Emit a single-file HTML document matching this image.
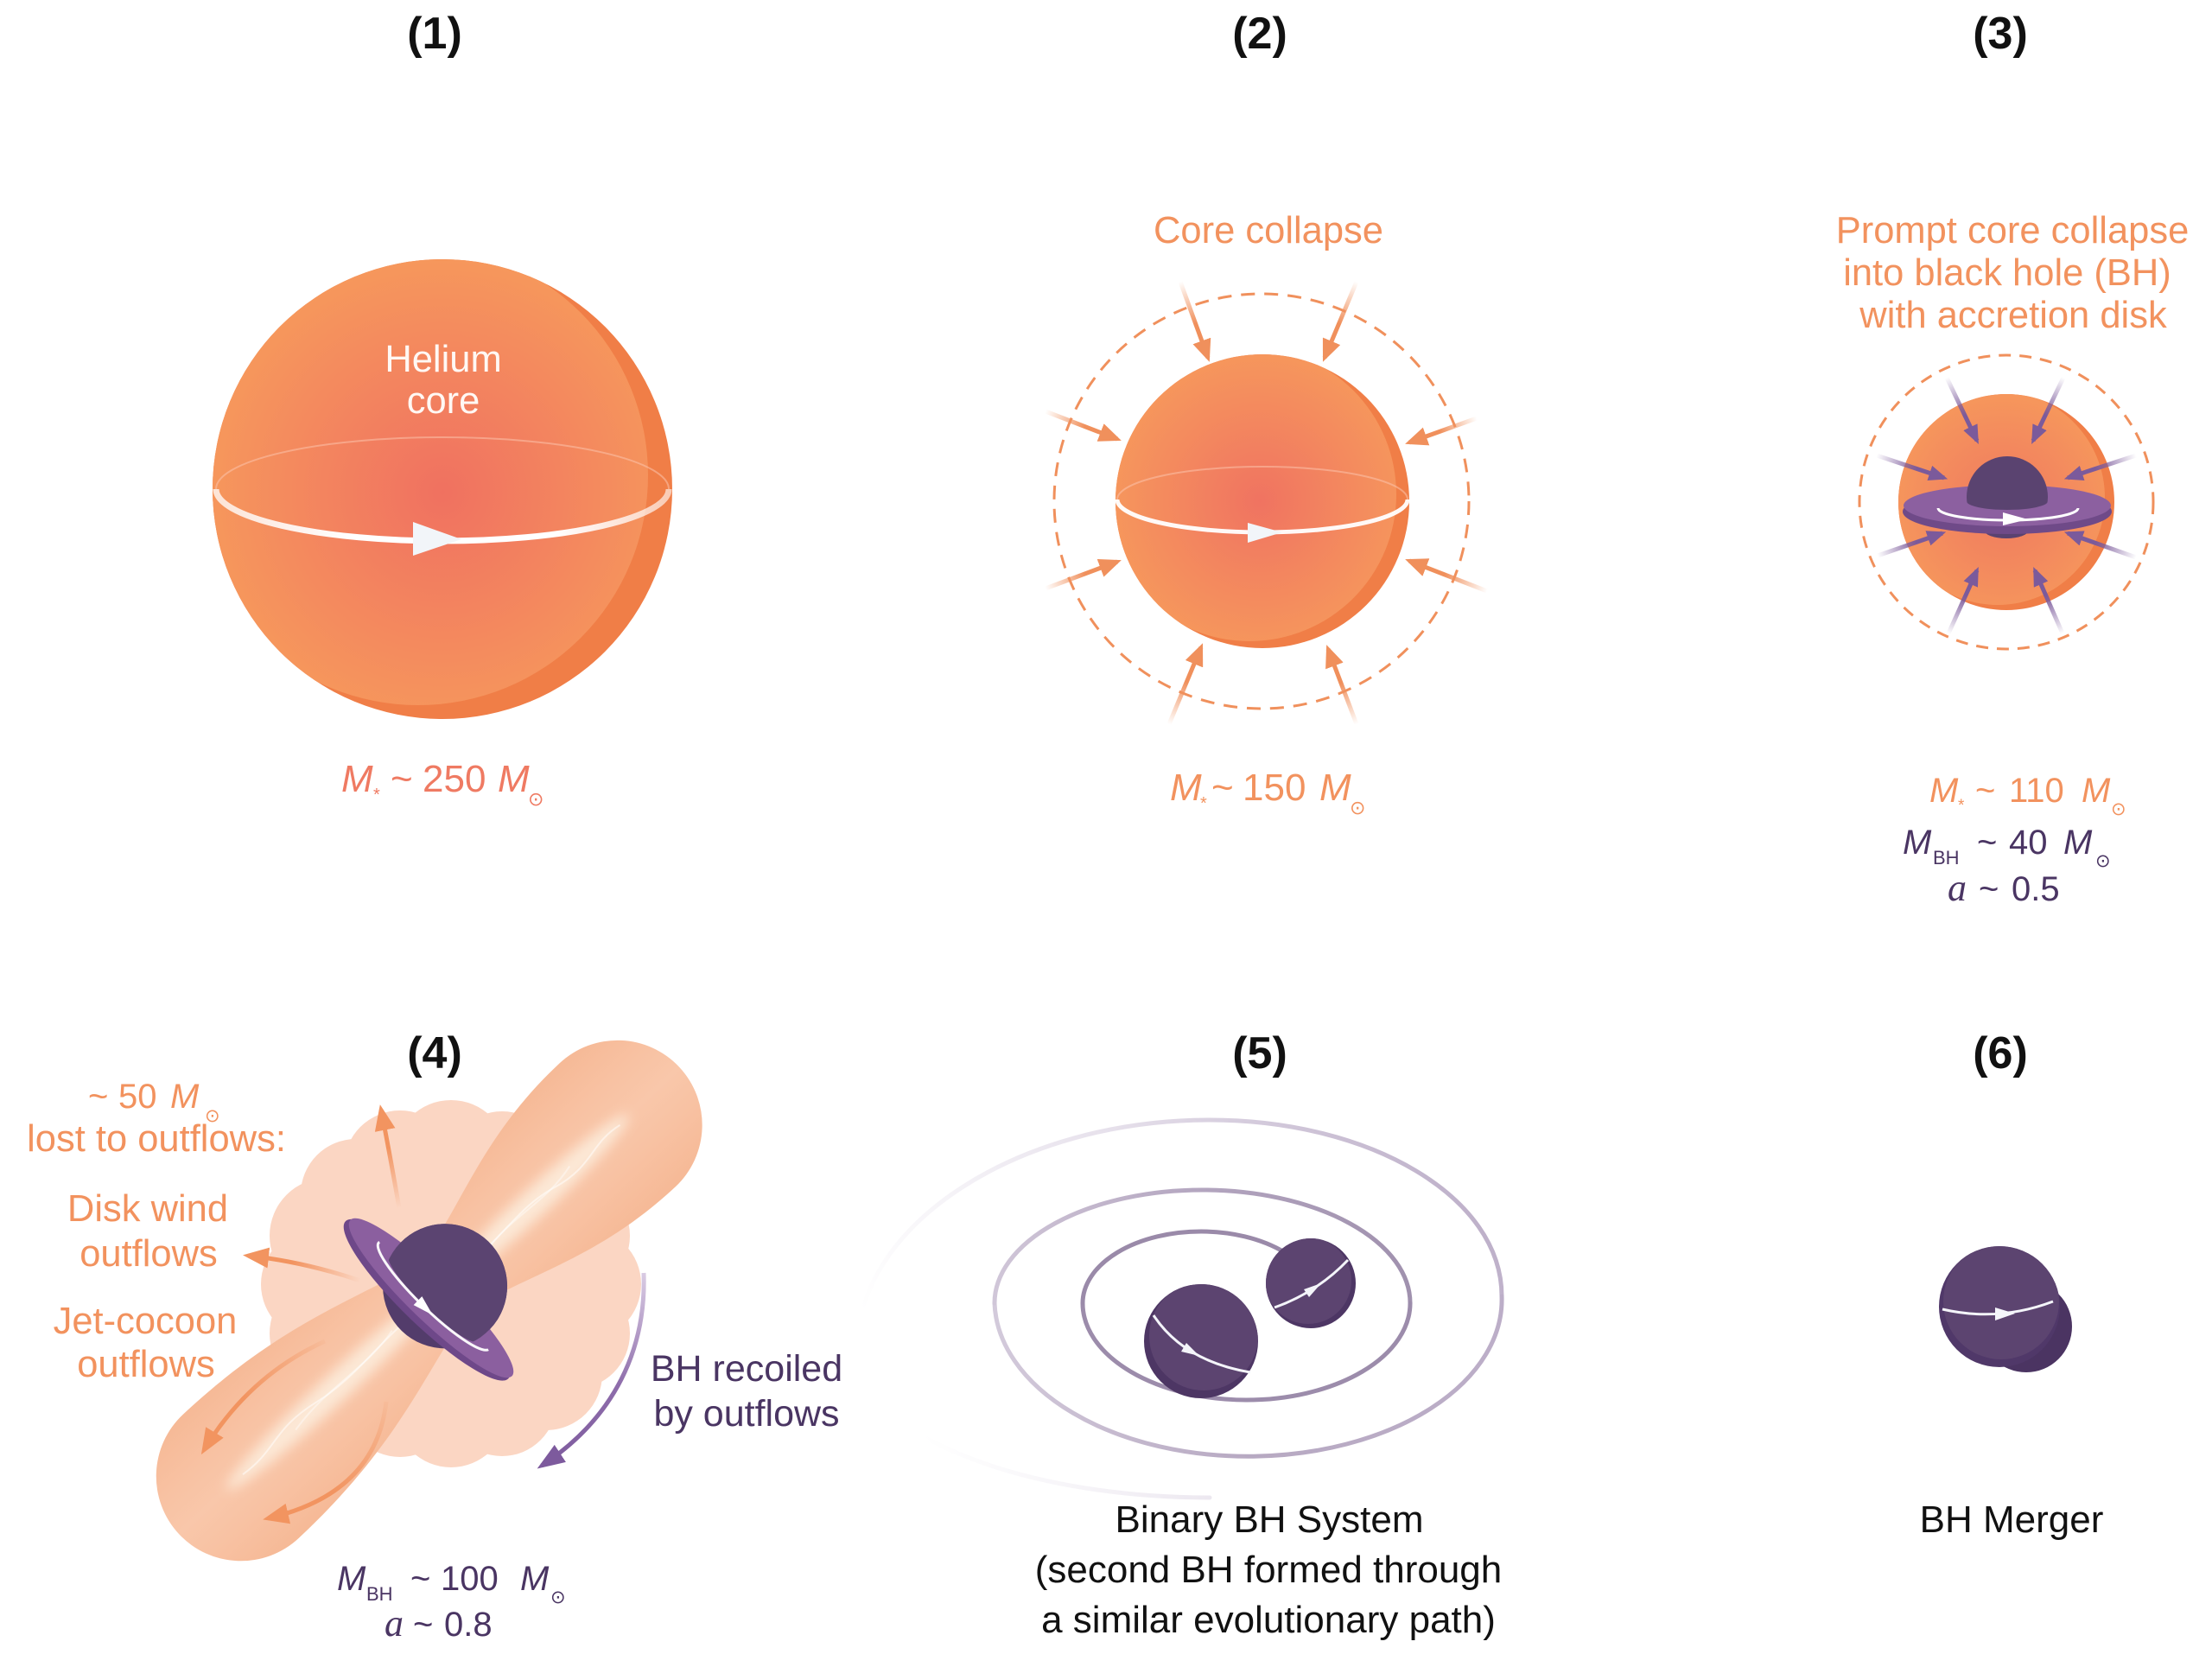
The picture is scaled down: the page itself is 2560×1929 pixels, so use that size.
<!DOCTYPE html>
<html><head><meta charset="utf-8">
<style>html,body{margin:0;padding:0;background:#fff}svg{display:block}</style>
</head><body>
<svg width="2560" height="1929" viewBox="0 0 2560 1929" xmlns="http://www.w3.org/2000/svg" font-family="'Liberation Sans','DejaVu Sans',sans-serif">
<defs>
  <radialGradient id="gs1" gradientUnits="userSpaceOnUse" cx="512" cy="570" r="275">
    <stop offset="0" stop-color="#f07160"/><stop offset=".5" stop-color="#f3845f"/><stop offset="1" stop-color="#f6985c"/>
  </radialGradient>
  <radialGradient id="gs2" gradientUnits="userSpaceOnUse" cx="1458" cy="580" r="178">
    <stop offset="0" stop-color="#f07361"/><stop offset=".5" stop-color="#f3865f"/><stop offset="1" stop-color="#f6985c"/>
  </radialGradient>
  <radialGradient id="gs3" gradientUnits="userSpaceOnUse" cx="2318" cy="585" r="130">
    <stop offset="0" stop-color="#f07a5f"/><stop offset=".55" stop-color="#f3895e"/><stop offset="1" stop-color="#f6975c"/>
  </radialGradient>
  <clipPath id="c1"><circle cx="512" cy="566" r="266"/></clipPath>
  <clipPath id="c2"><circle cx="1461" cy="580" r="170"/></clipPath>
  <clipPath id="c3"><circle cx="2322" cy="581" r="125"/></clipPath>
  <clipPath id="c5a"><circle cx="1390" cy="1552" r="66"/></clipPath>
  <clipPath id="c5b"><circle cx="1517" cy="1485" r="52"/></clipPath>
  <clipPath id="c6"><circle cx="2314" cy="1512" r="70"/></clipPath>
  <clipPath id="dome3"><path d="M2200,450 H2450 V580 H2370 A47,10 0 0 1 2276,580 H2200 Z"/></clipPath>
  <clipPath id="dome4"><path d="M-200,-200 H200 V-2 H74 A72,14 0 0 1 -70,-2 H-200 Z"/></clipPath>
  <linearGradient id="gj" gradientUnits="userSpaceOnUse" x1="0" y1="-100" x2="0" y2="100">
    <stop offset="0" stop-color="#f6b996"/><stop offset=".3" stop-color="#f8c2a3"/><stop offset=".5" stop-color="#f9c7aa"/><stop offset=".7" stop-color="#f8c2a3"/><stop offset="1" stop-color="#f6b996"/>
  </linearGradient>
  <filter id="bl" x="-20%" y="-200%" width="140%" height="500%"><feGaussianBlur stdDeviation="7"/></filter>
  <linearGradient id="ring1" gradientUnits="userSpaceOnUse" x1="250" y1="0" x2="774" y2="0">
    <stop offset="0" stop-color="#fff" stop-opacity=".75"/><stop offset=".3" stop-color="#fff"/><stop offset=".75" stop-color="#fff"/><stop offset="1" stop-color="#fff" stop-opacity=".6"/>
  </linearGradient>
  <marker id="mO" viewBox="0 0 10 10" refX="8" refY="5" markerWidth="26" markerHeight="22" markerUnits="userSpaceOnUse" orient="auto" preserveAspectRatio="none"><path d="M0,0L10,5L0,10Z" fill="#f0905c"/></marker>
  <marker id="mP" viewBox="0 0 10 10" refX="8" refY="5" markerWidth="22" markerHeight="18" markerUnits="userSpaceOnUse" orient="auto" preserveAspectRatio="none"><path d="M0,0L10,5L0,10Z" fill="#7b5a9b"/></marker>
  <marker id="mO4" viewBox="0 0 10 10" refX="8" refY="5" markerWidth="30" markerHeight="24" markerUnits="userSpaceOnUse" orient="auto" preserveAspectRatio="none"><path d="M0,0L10,5L0,10Z" fill="#f29460"/></marker>
  <marker id="mP4" viewBox="0 0 10 10" refX="8" refY="5" markerWidth="32" markerHeight="24" markerUnits="userSpaceOnUse" orient="auto" preserveAspectRatio="none"><path d="M0,0L10,5L0,10Z" fill="#7d5a9d"/></marker>

  <linearGradient id="a1" gradientUnits="userSpaceOnUse" x1="1366" y1="326" x2="1398" y2="414"><stop offset="0" stop-color="#f0905c" stop-opacity="0"/><stop offset=".55" stop-color="#f0905c"/></linearGradient>
  <linearGradient id="a2" gradientUnits="userSpaceOnUse" x1="1570" y1="326" x2="1533" y2="414"><stop offset="0" stop-color="#f0905c" stop-opacity="0"/><stop offset=".55" stop-color="#f0905c"/></linearGradient>
  <linearGradient id="a3" gradientUnits="userSpaceOnUse" x1="1210" y1="476" x2="1293" y2="508"><stop offset="0" stop-color="#f0905c" stop-opacity="0"/><stop offset=".55" stop-color="#f0905c"/></linearGradient>
  <linearGradient id="a4" gradientUnits="userSpaceOnUse" x1="1709" y1="484" x2="1631" y2="512"><stop offset="0" stop-color="#f0905c" stop-opacity="0"/><stop offset=".55" stop-color="#f0905c"/></linearGradient>
  <linearGradient id="a5" gradientUnits="userSpaceOnUse" x1="1210" y1="681" x2="1293" y2="650"><stop offset="0" stop-color="#f0905c" stop-opacity="0"/><stop offset=".55" stop-color="#f0905c"/></linearGradient>
  <linearGradient id="a6" gradientUnits="userSpaceOnUse" x1="1721" y1="684" x2="1631" y2="649"><stop offset="0" stop-color="#f0905c" stop-opacity="0"/><stop offset=".55" stop-color="#f0905c"/></linearGradient>
  <linearGradient id="a7" gradientUnits="userSpaceOnUse" x1="1353" y1="838" x2="1390" y2="749"><stop offset="0" stop-color="#f0905c" stop-opacity="0"/><stop offset=".55" stop-color="#f0905c"/></linearGradient>
  <linearGradient id="a8" gradientUnits="userSpaceOnUse" x1="1570" y1="838" x2="1537" y2="751"><stop offset="0" stop-color="#f0905c" stop-opacity="0"/><stop offset=".55" stop-color="#f0905c"/></linearGradient>
  <linearGradient id="b1" gradientUnits="userSpaceOnUse" x1="2253" y1="437" x2="2288" y2="510"><stop offset="0" stop-color="#7b5a9b" stop-opacity="0"/><stop offset=".6" stop-color="#7b5a9b"/></linearGradient>
  <linearGradient id="b2" gradientUnits="userSpaceOnUse" x1="2388" y1="437" x2="2353" y2="510"><stop offset="0" stop-color="#7b5a9b" stop-opacity="0"/><stop offset=".6" stop-color="#7b5a9b"/></linearGradient>
  <linearGradient id="b3" gradientUnits="userSpaceOnUse" x1="2172" y1="527" x2="2250" y2="553"><stop offset="0" stop-color="#7b5a9b" stop-opacity="0"/><stop offset=".6" stop-color="#7b5a9b"/></linearGradient>
  <linearGradient id="b4" gradientUnits="userSpaceOnUse" x1="2472" y1="527" x2="2393" y2="553"><stop offset="0" stop-color="#7b5a9b" stop-opacity="0"/><stop offset=".6" stop-color="#7b5a9b"/></linearGradient>
  <linearGradient id="b5" gradientUnits="userSpaceOnUse" x1="2173" y1="643" x2="2248" y2="617"><stop offset="0" stop-color="#7b5a9b" stop-opacity="0"/><stop offset=".6" stop-color="#7b5a9b"/></linearGradient>
  <linearGradient id="b6" gradientUnits="userSpaceOnUse" x1="2472" y1="645" x2="2393" y2="617"><stop offset="0" stop-color="#7b5a9b" stop-opacity="0"/><stop offset=".6" stop-color="#7b5a9b"/></linearGradient>
  <linearGradient id="b7" gradientUnits="userSpaceOnUse" x1="2255" y1="733" x2="2288" y2="660"><stop offset="0" stop-color="#7b5a9b" stop-opacity="0"/><stop offset=".6" stop-color="#7b5a9b"/></linearGradient>
  <linearGradient id="b8" gradientUnits="userSpaceOnUse" x1="2387" y1="733" x2="2355" y2="660"><stop offset="0" stop-color="#7b5a9b" stop-opacity="0"/><stop offset=".6" stop-color="#7b5a9b"/></linearGradient>
  <linearGradient id="o1" gradientUnits="userSpaceOnUse" x1="462" y1="1398" x2="439" y2="1282"><stop offset="0" stop-color="#f29460" stop-opacity="0"/><stop offset=".6" stop-color="#f29460"/></linearGradient>
  <linearGradient id="o2" gradientUnits="userSpaceOnUse" x1="417" y1="1482" x2="285" y2="1453"><stop offset="0" stop-color="#f29460" stop-opacity="0"/><stop offset=".6" stop-color="#f29460"/></linearGradient>
  <linearGradient id="o3" gradientUnits="userSpaceOnUse" x1="376" y1="1552" x2="235" y2="1680"><stop offset="0" stop-color="#f29460" stop-opacity=".1"/><stop offset=".6" stop-color="#f29460"/></linearGradient>
  <linearGradient id="o4" gradientUnits="userSpaceOnUse" x1="447" y1="1622" x2="308" y2="1758"><stop offset="0" stop-color="#f29460" stop-opacity=".1"/><stop offset=".6" stop-color="#f29460"/></linearGradient>
  <linearGradient id="rc" gradientUnits="userSpaceOnUse" x1="745" y1="1473" x2="625" y2="1697"><stop offset="0" stop-color="#d9cbe3"/><stop offset=".5" stop-color="#8e6dab"/><stop offset="1" stop-color="#7d5a9d"/></linearGradient>
  <linearGradient id="sp1" gradientUnits="userSpaceOnUse" x1="1100" y1="1730" x2="1738" y2="1420"><stop offset="0" stop-color="#ffffff"/><stop offset=".2" stop-color="#f6f4f8"/><stop offset=".5" stop-color="#e6e0eb"/><stop offset="1" stop-color="#bcaec8"/></linearGradient>
  <linearGradient id="sp2" gradientUnits="userSpaceOnUse" x1="1738" y1="0" x2="1151" y2="0"><stop offset="0" stop-color="#bcaec8"/><stop offset=".5" stop-color="#b7a9c2"/><stop offset="1" stop-color="#d3cadb"/></linearGradient>
  <linearGradient id="sp3" gradientUnits="userSpaceOnUse" x1="1151" y1="0" x2="1632" y2="0"><stop offset="0" stop-color="#d0c6d8"/><stop offset=".5" stop-color="#b3a5bf"/><stop offset="1" stop-color="#a091ae"/></linearGradient>
</defs>

<!-- Titles -->
<g font-weight="bold" font-size="52" fill="#111" text-anchor="middle">
  <text x="503" y="56">(1)</text>
  <text x="1458" y="56">(2)</text>
  <text x="2315" y="56">(3)</text>
  <text x="503" y="1236">(4)</text>
  <text x="1458" y="1236">(5)</text>
  <text x="2315" y="1236">(6)</text>
</g>

<!-- Panel 1 -->
<circle cx="512" cy="566" r="266" fill="#f07e47"/>
<circle cx="484" cy="550" r="266" fill="url(#gs1)" clip-path="url(#c1)"/>
<path d="M250,566 A262,60 0 0 1 774,566" fill="none" stroke="#fbc2ab" stroke-opacity=".55" stroke-width="2"/>
<path d="M250,566 A262,60 0 0 0 774,566" fill="none" stroke="url(#ring1)" stroke-width="7"/>
<polygon points="478,604 534,624 478,643" fill="#f2f5f9"/>
<g fill="#fff8f4" font-size="43.5" text-anchor="middle">
  <text x="513" y="430">Helium</text>
  <text x="513" y="478">core</text>
</g>
<text y="916" font-size="44" fill="#ef7a62">
  <tspan x="395" font-style="italic">M</tspan><tspan x="432" y="926" font-size="20">*</tspan><tspan x="452" y="916">~</tspan><tspan x="489">250</tspan><tspan x="576" font-style="italic">M</tspan><tspan x="611" y="932" font-size="22" font-family="'DejaVu Sans',sans-serif">⊙</tspan>
</text>

<!-- Panel 2 -->
<text x="1468" y="281" font-size="43.5" fill="#f2925e" text-anchor="middle">Core collapse</text>
<circle cx="1460" cy="580" r="240" fill="none" stroke="#f0905c" stroke-width="3" stroke-dasharray="16 11"/>
<circle cx="1461" cy="580" r="170" fill="#f07e47"/>
<circle cx="1446" cy="572" r="170" fill="url(#gs2)" clip-path="url(#c2)"/>
<path d="M1293,578 A168,38 0 0 1 1629,578" fill="none" stroke="#fbc2ab" stroke-opacity=".55" stroke-width="2"/>
<path d="M1293,578 A168,38 0 0 0 1629,578" fill="none" stroke="#fff" stroke-opacity=".95" stroke-width="5"/>
<polygon points="1444,605 1484,616 1444,628" fill="#f2f5f9"/>
<g fill="none" stroke-width="5">
  <path d="M1366,326 L1398,414" stroke="url(#a1)" marker-end="url(#mO)"/>
  <path d="M1570,326 L1533,414" stroke="url(#a2)" marker-end="url(#mO)"/>
  <path d="M1210,476 L1293,508" stroke="url(#a3)" marker-end="url(#mO)"/>
  <path d="M1709,484 L1631,512" stroke="url(#a4)" marker-end="url(#mO)"/>
  <path d="M1210,681 L1293,650" stroke="url(#a5)" marker-end="url(#mO)"/>
  <path d="M1721,684 L1631,649" stroke="url(#a6)" marker-end="url(#mO)"/>
  <path d="M1353,838 L1390,749" stroke="url(#a7)" marker-end="url(#mO)"/>
  <path d="M1570,838 L1537,751" stroke="url(#a8)" marker-end="url(#mO)"/>
</g>
<text y="926" font-size="44" fill="#f2925e">
  <tspan x="1354" font-style="italic">M</tspan><tspan x="1389" y="936" font-size="20">*</tspan><tspan x="1402" y="926">~</tspan><tspan x="1438">150</tspan><tspan x="1527" font-style="italic">M</tspan><tspan x="1562" y="942" font-size="22" font-family="'DejaVu Sans',sans-serif">⊙</tspan>
</text>

<!-- Panel 3 -->
<g font-size="43.5" fill="#f2925e" text-anchor="middle">
  <text x="2329" y="281">Prompt core collapse</text>
  <text x="2323" y="330">into black hole (BH)</text>
  <text x="2330" y="379">with accretion disk</text>
</g>
<circle cx="2322" cy="581" r="170" fill="none" stroke="#f0905c" stroke-width="3" stroke-dasharray="14 10"/>
<circle cx="2322" cy="581" r="125" fill="#f07e47"/>
<circle cx="2312" cy="576" r="124" fill="url(#gs3)" clip-path="url(#c3)"/>
<g fill="none" stroke-width="5">
  <path d="M2253,437 L2288,510" stroke="url(#b1)" marker-end="url(#mP)"/>
  <path d="M2388,437 L2353,510" stroke="url(#b2)" marker-end="url(#mP)"/>
  <path d="M2172,527 L2250,553" stroke="url(#b3)" marker-end="url(#mP)"/>
  <path d="M2472,527 L2393,553" stroke="url(#b4)" marker-end="url(#mP)"/>
  <path d="M2173,643 L2248,617" stroke="url(#b5)" marker-end="url(#mP)"/>
  <path d="M2472,645 L2393,617" stroke="url(#b6)" marker-end="url(#mP)"/>
  <path d="M2255,733 L2288,660" stroke="url(#b7)" marker-end="url(#mP)"/>
  <path d="M2387,733 L2355,660" stroke="url(#b8)" marker-end="url(#mP)"/>
</g>
<ellipse cx="2322" cy="613" rx="26" ry="10" fill="#5a4270"/>
<ellipse cx="2323" cy="592" rx="121" ry="26" fill="#6f4a88"/>
<ellipse cx="2323" cy="585" rx="120" ry="24" fill="#8c60a0"/>
<circle cx="2323" cy="575" r="47" fill="#5a4370" clip-path="url(#dome3)"/>
<path d="M2243,588 A81,14 0 0 0 2405,588" fill="none" stroke="#fff" stroke-width="3"/>
<polygon points="2318,593 2347,601 2318,608" fill="#fff"/>
<text y="928" font-size="40" fill="#f2925e">
  <tspan x="2233" font-style="italic">M</tspan><tspan x="2266" y="938" font-size="19">*</tspan><tspan x="2286" y="928">~</tspan><tspan x="2325">110</tspan><tspan x="2409" font-style="italic">M</tspan><tspan x="2443" y="943" font-size="21" font-family="'DejaVu Sans',sans-serif">⊙</tspan>
</text>
<text y="988" font-size="40" fill="#4a3563">
  <tspan x="2202" font-style="italic">M</tspan><tspan x="2237" y="1000" font-size="22">BH</tspan><tspan x="2288" y="988">~</tspan><tspan x="2325">40</tspan><tspan x="2388" font-style="italic">M</tspan><tspan x="2425" y="1003" font-size="21" font-family="'DejaVu Sans',sans-serif">⊙</tspan>
</text>
<text y="1042" font-size="40" fill="#4a3563">
  <tspan x="2254" font-style="italic" font-family="'Liberation Serif',serif" font-size="44">a</tspan><tspan x="2290">~</tspan><tspan x="2328">0.5</tspan>
</text>

<!-- Panel 4 -->
<g fill="#fbd6c3">
  <ellipse cx="522" cy="1486" rx="180" ry="172"/>
  <circle cx="677" cy="1486" r="65"/><circle cx="665" cy="1543" r="64"/><circle cx="632" cy="1590" r="65"/>
  <circle cx="581" cy="1622" r="63"/><circle cx="522" cy="1633" r="65"/><circle cx="463" cy="1622" r="64"/>
  <circle cx="412" cy="1590" r="65"/><circle cx="379" cy="1543" r="67"/><circle cx="367" cy="1486" r="65"/>
  <circle cx="379" cy="1430" r="67"/><circle cx="412" cy="1382" r="64"/><circle cx="463" cy="1350" r="65"/>
  <circle cx="522" cy="1339" r="66"/><circle cx="581" cy="1350" r="64"/><circle cx="632" cy="1382" r="65"/>
  <circle cx="665" cy="1430" r="64"/>
</g>
<g transform="translate(515,1488) rotate(-43)">
  <path d="M0,-40 C80,-55 150,-98 273,-98 A98,98 0 0 1 273,98 C150,98 80,55 0,40 C-80,55 -160,98 -323,98 A98,98 0 0 1 -323,-98 C-160,-98 -80,-55 0,-40 Z" fill="url(#gj)"/>
  <ellipse cx="140" cy="0" rx="150" ry="16" fill="#fce8d6" filter="url(#bl)"/>
  <ellipse cx="-170" cy="0" rx="175" ry="16" fill="#fce8d6" filter="url(#bl)"/>
  <path d="M30,-3 C80,8 120,-10 170,3 S235,-6 275,2" fill="none" stroke="#fff" stroke-opacity=".5" stroke-width="2"/>
  <path d="M60,4 C110,-8 150,10 200,-3" fill="none" stroke="#fff" stroke-opacity=".4" stroke-width="2"/>
  <path d="M-30,3 C-90,-9 -140,9 -200,-3 S-270,6 -320,0" fill="none" stroke="#fff" stroke-opacity=".5" stroke-width="2"/>
  <path d="M-80,-4 C-130,8 -180,-8 -240,4" fill="none" stroke="#fff" stroke-opacity=".4" stroke-width="2"/>
</g>
<g fill="none" stroke-width="5">
  <path d="M462,1398 Q452,1340 441,1284" stroke="url(#o1)" marker-end="url(#mO4)"/>
  <path d="M417,1482 Q352,1460 287,1453" stroke="url(#o2)" marker-end="url(#mO4)"/>
  <path d="M376,1552 Q288,1592 236,1678" stroke="url(#o3)" marker-end="url(#mO4)"/>
  <path d="M447,1622 Q435,1728 310,1757" stroke="url(#o4)" marker-end="url(#mO4)"/>
</g>
<g transform="translate(499,1502) rotate(44)">
  <circle cx="2" cy="-21" r="72" fill="#533c6b"/>
  <ellipse cx="-2" cy="5" rx="131" ry="29" fill="#6e4889"/>
  <ellipse cx="0" cy="0" rx="130" ry="26" fill="#8b5f9f"/>
  <circle cx="2" cy="-21" r="72" fill="#5b4471" clip-path="url(#dome4)"/>
  <path d="M-88,-5 A88,17 0 0 0 89,-3" fill="none" stroke="#fff" stroke-opacity=".95" stroke-width="3"/>
  <polygon points="-9,6 15,13 -9,20" fill="#fff"/>
</g>
<path d="M745,1473 C748,1560 712,1640 627,1696" fill="none" stroke="url(#rc)" stroke-width="5" marker-end="url(#mP4)"/>

<g font-size="43.5" fill="#f2925e" text-anchor="middle">
  <text x="181" y="1332">lost to outflows:</text>
  <text x="171" y="1413">Disk wind</text>
  <text x="172" y="1465">outflows</text>
  <text x="168" y="1543">Jet-cocoon</text>
  <text x="169" y="1593">outflows</text>
</g>
<text y="1282" font-size="40" fill="#f2925e">
  <tspan x="102">~</tspan><tspan x="137">50</tspan><tspan x="197" font-style="italic">M</tspan><tspan x="237" y="1298" font-size="21" font-family="'DejaVu Sans',sans-serif">⊙</tspan>
</text>
<g font-size="43" fill="#4a3563" text-anchor="middle">
  <text x="864" y="1598">BH recoiled</text>
  <text x="864" y="1650">by outflows</text>
</g>
<text y="1840" font-size="40" fill="#4a3563">
  <tspan x="390" font-style="italic">M</tspan><tspan x="424" y="1852" font-size="22">BH</tspan><tspan x="475" y="1840">~</tspan><tspan x="510">100</tspan><tspan x="602" font-style="italic">M</tspan><tspan x="637" y="1855" font-size="21" font-family="'DejaVu Sans',sans-serif">⊙</tspan>
</text>
<text y="1893" font-size="40" fill="#4a3563">
  <tspan x="445" font-style="italic" font-family="'Liberation Serif',serif" font-size="44">a</tspan><tspan x="478">~</tspan><tspan x="514">0.8</tspan>
</text>

<!-- Panel 5 -->
<g fill="none" stroke-width="5" stroke-linecap="round">
  <path d="M1400,1733 C1175,1733 991,1655 991,1565 C991,1415 1180,1296 1400,1296 C1586,1296 1738,1385 1738,1500" stroke="url(#sp1)"/>
  <path d="M1738,1500 A293,181 0 0 1 1151,1508" stroke="url(#sp2)"/>
  <path d="M1151,1508 A240.5,131 0 0 1 1632,1508" stroke="url(#sp3)"/>
  <path d="M1632,1508 A189.5,112 0 0 1 1253,1508" stroke="#9c8cab"/>
  <path d="M1253,1508 A137,83 0 0 1 1527,1508" stroke="#9a8aa9"/>
</g>
<circle cx="1390" cy="1552" r="66" fill="#4d3664"/>
<circle cx="1393" cy="1546" r="63" fill="#5c4470" clip-path="url(#c5a)"/>
<circle cx="1517" cy="1485" r="52" fill="#4d3664"/>
<circle cx="1514" cy="1482" r="50" fill="#5c4470" clip-path="url(#c5b)"/>
<path d="M1335,1522 Q1370,1575 1447,1588" fill="none" stroke="#f4f5fa" stroke-width="3"/>
<polygon points="1367,1564 1388,1569 1373,1554" fill="#f4f5fa"/>
<path d="M1475,1513 Q1525,1495 1560,1458" fill="none" stroke="#f4f5fa" stroke-width="3"/>
<polygon points="1515,1501 1529,1485 1509,1492" fill="#f4f5fa"/>
<g font-size="44" fill="#111" text-anchor="middle">
  <text x="1469" y="1773">Binary BH System</text>
  <text x="1468" y="1831">(second BH formed through</text>
  <text x="1468" y="1889">a similar evolutionary path)</text>
</g>

<!-- Panel 6 -->
<circle cx="2345" cy="1535" r="53" fill="#4b3462"/>
<circle cx="2314" cy="1512" r="70" fill="#503869"/>
<circle cx="2316" cy="1506" r="67" fill="#5c4470" clip-path="url(#c6)"/>
<path d="M2248,1515 Q2313,1530 2376,1506" fill="none" stroke="#f4f5fa" stroke-width="3"/>
<polygon points="2309,1513 2332,1520 2309,1528" fill="#f4f5fa"/>
<text x="2328" y="1773" font-size="44" fill="#111" text-anchor="middle">BH Merger</text>
</svg>
</body></html>
